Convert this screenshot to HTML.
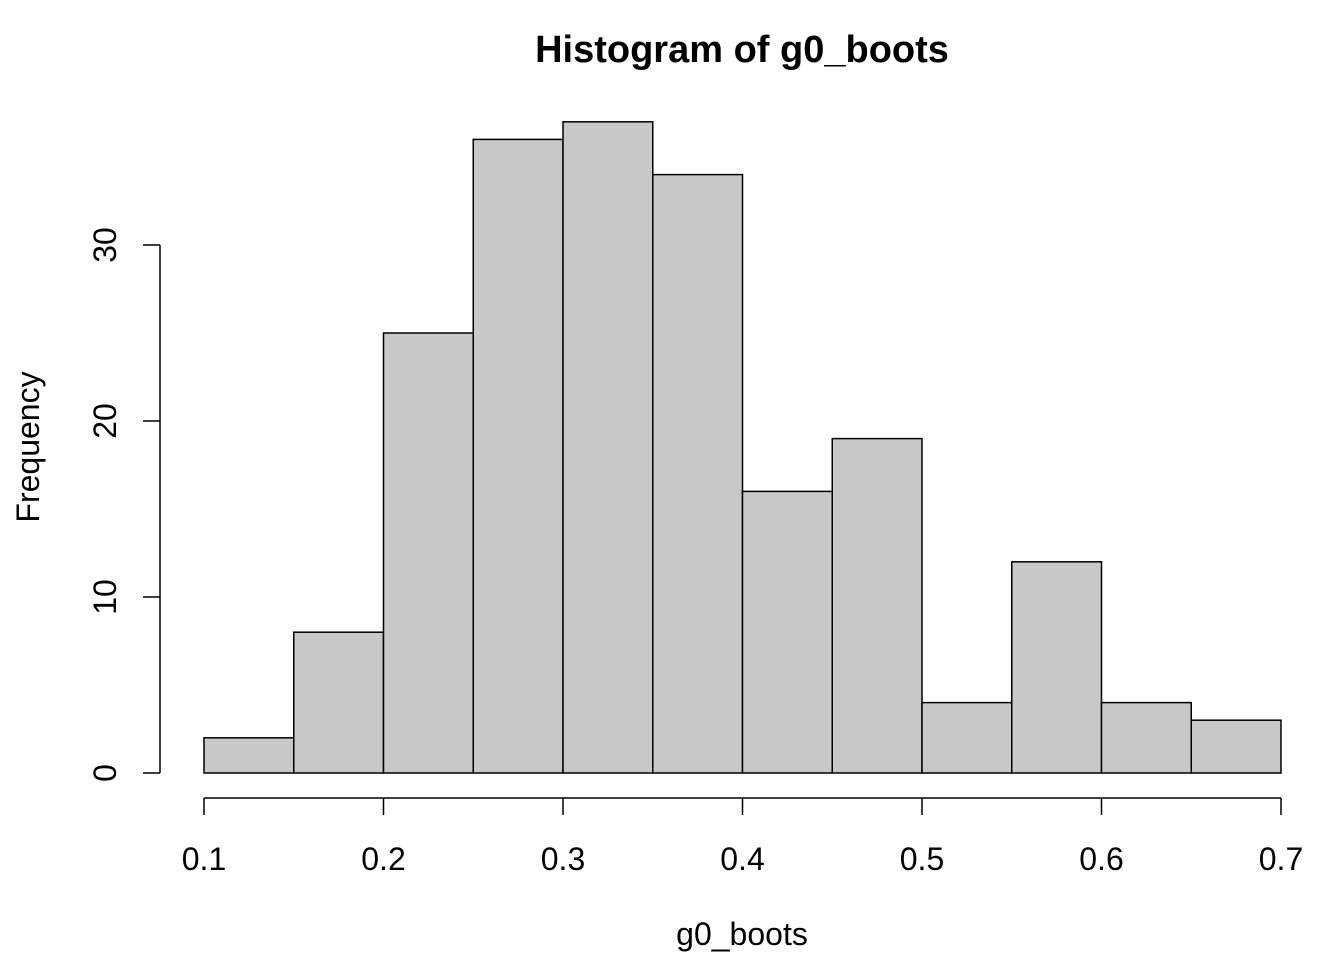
<!DOCTYPE html>
<html><head><meta charset="utf-8"><style>
html,body{margin:0;padding:0;background:#fff;}
svg{display:block;font-family:"Liberation Sans",Arial,sans-serif;}
</style></head><body>
<svg id="chart" width="1344" height="960">
<text x="742" y="62" text-anchor="middle" font-size="38" font-weight="bold">Histogram of g0_boots</text>
<text x="742" y="945" text-anchor="middle" font-size="32">g0_boots</text>
<text transform="translate(39,447) rotate(-90)" text-anchor="middle" font-size="32">Frequency</text>
<g id="bars"></g><g id="xaxis"></g><g id="yaxis"></g>
</svg>
<script>
const breaks = [0.1,0.15,0.2,0.25,0.3,0.35,0.4,0.45,0.5,0.55,0.6,0.65,0.7];
const counts = [2,8,25,36,37,34,16,19,4,12,4,3];
const xTicks = [0.1,0.2,0.3,0.4,0.5,0.6,0.7];
const xTickLabels = ["0.1","0.2","0.3","0.4","0.5","0.6","0.7"];
const yTicks = [0,10,20,30];
const yTickLabels = ["0","10","20","30"];
const NS="http://www.w3.org/2000/svg";
function xs(v){return 204+(v-0.1)/0.6*1077;}
function ys(v){return 773-v*17.6;}
function mk(t,a,p){const e=document.createElementNS(NS,t);for(const k in a)e.setAttribute(k,a[k]);p.appendChild(e);return e;}
const bars=document.getElementById('bars');
counts.forEach((c,i)=>{
  const r=mk('rect',{x:xs(breaks[i]),y:ys(c),width:xs(breaks[i+1])-xs(breaks[i]),height:ys(0)-ys(c),fill:'#c8c8c8',stroke:'#000','stroke-width':1.5},bars);
  
  
});
const xa=document.getElementById('xaxis');


mk('line',{x1:xs(xTicks[0]),x2:xs(xTicks[xTicks.length-1]),y1:798,y2:798,stroke:'#000','stroke-width':1.5},xa);
xTicks.forEach((v,i)=>{
  mk('line',{x1:xs(v),x2:xs(v),y1:798,y2:815,stroke:'#000','stroke-width':1.5},xa);
  const t=mk('text',{x:xs(v),y:870,'text-anchor':'middle','font-size':32},xa);
  t.textContent=xTickLabels[i];
  
  
});
const ya=document.getElementById('yaxis');


mk('line',{x1:160,x2:160,y1:ys(yTicks[0]),y2:ys(yTicks[yTicks.length-1]),stroke:'#000','stroke-width':1.5},ya);
yTicks.forEach((v,i)=>{
  mk('line',{x1:143,x2:160,y1:ys(v),y2:ys(v),stroke:'#000','stroke-width':1.5},ya);
  const t=mk('text',{transform:'translate(116,'+ys(v)+') rotate(-90)','text-anchor':'middle','font-size':32},ya);
  t.textContent=yTickLabels[i];
  
  
});
</script>
</body></html>
